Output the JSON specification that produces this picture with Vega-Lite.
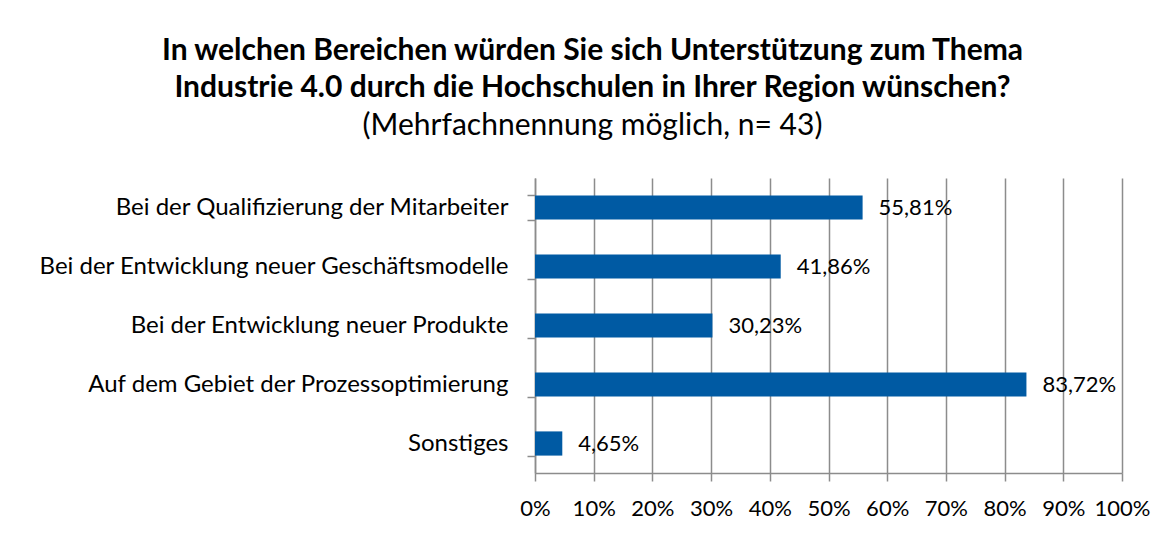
{
  "$schema": "https://vega.github.io/schema/vega-lite/v6.json",
  "width": 587,
  "height": 295,
  "autosize": {"type": "none"},
  "padding": {"left": 535, "top": 178, "right": 53, "bottom": 62},
  "background": "white",
  "title": {
    "text": ["In welchen Bereichen würden Sie sich Unterstützung zum Thema", "Industrie 4.0 durch die Hochschulen in Ihrer Region wünschen?"],
    "subtitle": "(Mehrfachnennung möglich, n= 43)",
    "anchor": "middle",
    "frame": "group",
    "dx": -236,
    "offset": 25,
    "font": "Lato",
    "fontSize": 30,
    "fontWeight": "bold",
    "lineHeight": 37,
    "color": "#000000",
    "subtitleFont": "Lato",
    "subtitleFontSize": 30,
    "subtitleColor": "#000000",
    "subtitleLineHeight": 37,
    "subtitlePadding": 8
  },
  "data": {
    "values": [
      {"kategorie": "Bei der Qualifizierung der Mitarbeiter", "anteil": 0.5581},
      {"kategorie": "Bei der Entwicklung neuer Geschäftsmodelle", "anteil": 0.4186},
      {"kategorie": "Bei der Entwicklung neuer Produkte", "anteil": 0.3023},
      {"kategorie": "Auf dem Gebiet der Prozessoptimierung", "anteil": 0.8372},
      {"kategorie": "Sonstiges", "anteil": 0.0465}
    ]
  },
  "encoding": {
    "y": {
      "field": "kategorie",
      "type": "nominal",
      "sort": null,
      "title": null,
      "scale": {"paddingInner": 0.59, "paddingOuter": 0.295},
      "axis": {
        "tickBand": "extent",
        "labelFont": "Lato",
        "labelFontSize": 24,
        "labelColor": "#000000",
        "labelPadding": 19,
        "labelLimit": 600,
        "tickSize": 8,
        "tickColor": "#8c8c8c",
        "tickWidth": 1.5,
        "domainColor": "#8c8c8c",
        "domainWidth": 1.5
      }
    },
    "x": {
      "field": "anteil",
      "type": "quantitative",
      "title": null,
      "scale": {"domain": [0, 1]},
      "axis": {
        "values": [0, 0.1, 0.2, 0.3, 0.4, 0.5, 0.6, 0.7, 0.8, 0.9, 1],
        "format": ".0%",
        "grid": true,
        "gridColor": "#8c8c8c",
        "gridWidth": 1.5,
        "tickSize": 8,
        "tickColor": "#8c8c8c",
        "tickWidth": 1.5,
        "domainColor": "#8c8c8c",
        "domainWidth": 1.5,
        "labelFont": "Lato",
        "labelFontSize": 22,
        "labelColor": "#000000",
        "labelPadding": 17,
        "labelFlush": false
      }
    }
  },
  "layer": [
    {"mark": {"type": "bar", "color": "#005aa3"}},
    {
      "mark": {"type": "text", "align": "left", "baseline": "middle", "dx": 16, "font": "Lato", "fontSize": 22, "color": "#000000"},
      "encoding": {"text": {"field": "anteil", "type": "quantitative", "format": ".2%"}}
    }
  ],
  "config": {
    "view": {"stroke": null},
    "locale": {"number": {"decimal": ",", "thousands": ".", "grouping": [3], "currency": ["", " €"]}}
  }
}
